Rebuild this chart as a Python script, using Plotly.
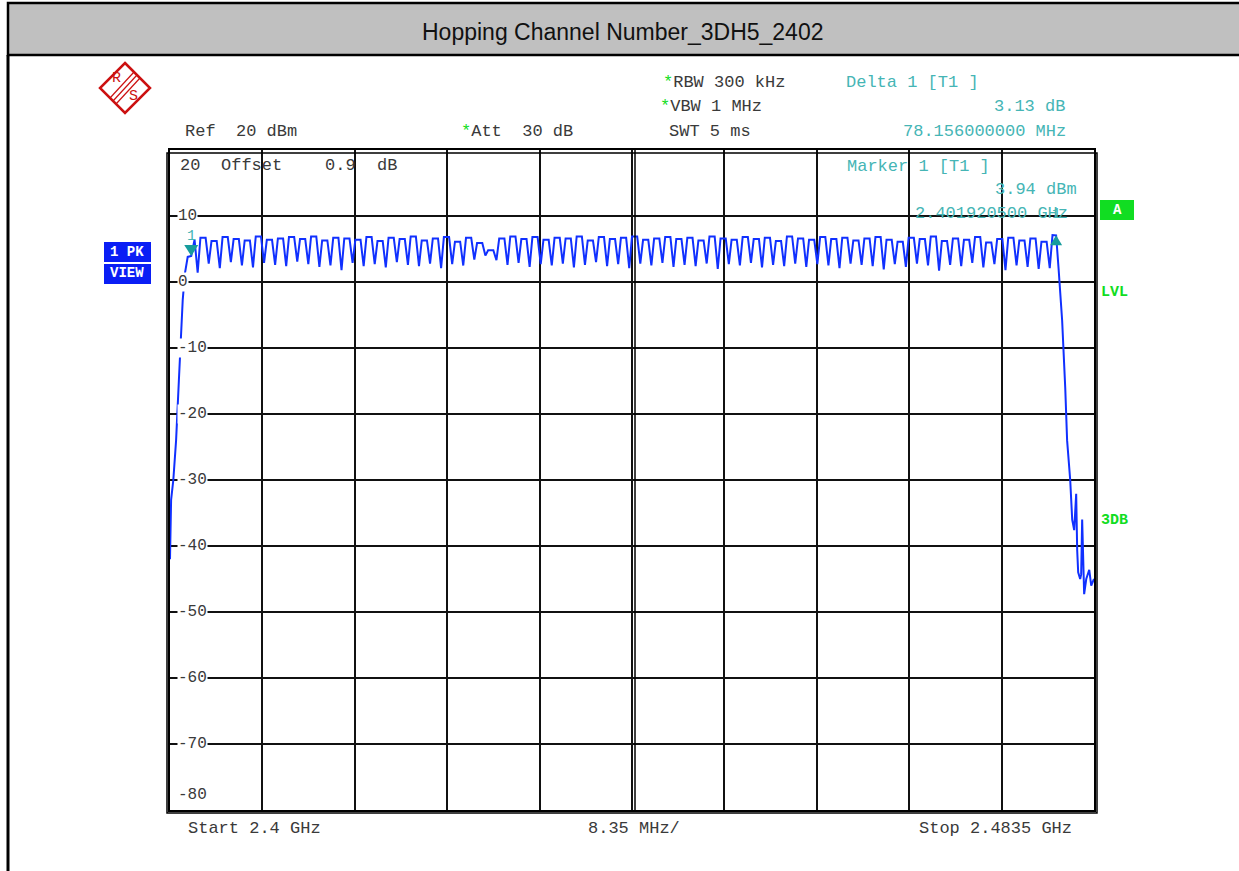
import plotly.graph_objects as go

# Bluetooth hopping channels, centre frequencies in MHz
channels_mhz = list(range(2402, 2481))

# top level of each channel hump (dBm)
peak_dbm = [
    6.4, 6.7, 6.2, 6.8, 6.5, 6.3, 6.9, 6.4, 6.6, 6.8,
    6.5, 6.9, 6.3, 6.7, 6.6, 6.4, 6.8, 6.2, 6.7, 6.5,
    6.9, 6.3, 6.6, 6.8, 6.1, 6.7, 5.9, 4.8, 6.6, 6.9,
    6.5, 6.8, 6.4, 6.7, 6.6, 6.9, 6.3, 6.8, 6.5, 6.7,
    6.9, 6.4, 6.6, 6.8, 6.5, 6.7, 6.3, 6.9, 6.6, 6.4,
    6.8, 6.5, 6.7, 6.2, 6.9, 6.6, 6.4, 6.8, 6.5, 6.7,
    6.3, 6.6, 6.8, 6.4, 6.1, 6.7, 6.5, 6.9, 6.2, 6.6,
    6.4, 6.8, 6.0, 6.5, 6.7, 6.3, 6.6, 6.1, 7.1,
]

# dip between neighbouring channels (dBm)
trough_dbm = [
    1.4, 2.8, 2.1, 3.0, 2.5, 2.2, 2.9, 2.6, 2.4, 3.1,
    2.7, 2.3, 2.5, 1.8, 2.9, 2.4, 2.7, 2.2, 3.0, 2.6,
    2.4, 2.8, 2.1, 2.7, 2.5, 3.4, 4.0, 3.3, 2.6, 2.9,
    2.3, 2.7, 2.5, 2.8, 2.2, 2.6, 3.0, 2.4, 2.7, 2.1,
    2.8, 2.5, 2.9, 2.3, 2.6, 2.4, 2.8, 2.0, 2.7, 2.5,
    2.9, 2.2, 2.6, 2.4, 2.8, 2.3, 2.7, 2.5, 2.1, 2.8,
    2.6, 2.4, 1.9, 2.7, 2.3, 2.8, 2.5, 1.7, 2.6, 2.4,
    2.9, 2.2, 2.7, 1.8, 2.5, 2.3, 2.0, 2.1,
]

# lower band edge
rise_mhz = [2400.0, 2400.1, 2400.3, 2400.55, 2400.8, 2401.0, 2401.15, 2401.35, 2401.6, 2401.9205]
rise_dbm = [-42, -33, -30, -24, -15, -8, -2.7, 1.3, 3.8, 3.94]

# upper band edge
fall_mhz = [2480.0765, 2480.3, 2480.62, 2480.9, 2481.07, 2481.35, 2481.53, 2481.71, 2481.89,
            2481.98, 2482.07, 2482.25, 2482.34, 2482.43, 2482.52, 2482.61, 2482.8, 2483.07,
            2483.25, 2483.5]
fall_dbm = [7.07, 2.0, -5.8, -16, -24, -30, -36, -37.6, -32.1,
            -40.6, -44, -45, -44.3, -36, -44.5, -47.3, -45, -43.6,
            -46, -45]

marker1_mhz = 2401.9205
marker1_dbm = 3.94
delta_mhz = 78.156
delta_db = 3.13

ytick_vals = [10, 0, -10, -20, -30, -40, -50, -60, -70]

# build the trace
xs = list(rise_mhz)
ys = list(rise_dbm)
for i, f in enumerate(channels_mhz):
    pts = [(f - 0.25, peak_dbm[i]), (f + 0.22, peak_dbm[i])]
    if i < len(trough_dbm):
        pts.append((f + 0.5, trough_dbm[i]))
    for x, y in pts:
        if rise_mhz[-1] < x < fall_mhz[0]:
            xs.append(x)
            ys.append(y)
xs += fall_mhz
ys += fall_dbm

W, H = 1239, 871
L, R, T, B = 170, 1094, 150, 810


def px(x):
    return (x - L) / (R - L)


def py(y):
    return (B - y) / (B - T)


MONO = "Liberation Mono, Courier New, monospace"
GREY = "#3a3a3a"
TEAL = "#45b5b5"
GREEN = "#11dd22"
BLUE = "#0a1ef5"
STAR = "<span style='color:%s'>*</span>" % GREEN

fig = go.Figure()
fig.add_trace(go.Scatter(x=xs, y=ys, mode="lines",
                         line=dict(color="#1030ff", width=2), hoverinfo="skip"))

ann = []


def txt(s, x, y, color=GREY, anchor="center", size=17, bold=False):
    ann.append(dict(text=("<b>%s</b>" % s) if bold else s, x=px(x), y=py(y), xref="paper",
                    yref="paper", xanchor=anchor, yanchor="middle", showarrow=False,
                    font=dict(family=MONO, size=size, color=color)))


# title bar
ann.append(dict(text="Hopping Channel Number_3DH5_2402", x=px(623), y=py(32), xref="paper",
                yref="paper", showarrow=False, xanchor="center", yanchor="middle",
                font=dict(family="Liberation Sans, Arial", size=23, color="#111")))

# header (centred on the span each string covers in the original screen)
txt("Ref  20 dBm", 241, 132)
txt(STAR + "Att  30 dB", 517, 132)
txt(STAR + "RBW 300 kHz", 724, 83)
txt(STAR + "VBW 1 MHz", 711, 107)
txt("SWT 5 ms", 710, 132)
txt("Delta 1 [T1 ]", 912, 83, TEAL)
txt("%.2f dB" % delta_db, 1029, 107, TEAL)
txt("%.9f MHz" % delta_mhz, 984, 132, TEAL)

# inside the grid
txt("20", 178, 165, anchor="left")
txt("Offset", 219, 165, anchor="left")
txt("0.9", 323, 165, anchor="left")
txt("dB", 375, 165, anchor="left")
txt("Marker 1 [T1 ]", 918, 166, TEAL)
txt("%.2f dBm" % marker1_dbm, 1036, 190, TEAL)
txt("%.9f GHz" % (marker1_mhz / 1000), 991, 214, TEAL)
txt("-80", 176, 795, anchor="left", size=16)

# bottom
txt("Start 2.4 GHz", 254, 828)
txt("8.35 MHz/", 634, 828)
txt("Stop 2.4835 GHz", 995, 828)

# right side labels
txt("LVL", 1099, 292, GREEN, "left", size=15, bold=True)
txt("3DB", 1099, 520, GREEN, "left", size=15, bold=True)
txt("A", 1117, 210, "white", size=14, bold=True)

# trace detector box
txt("1 PK", 127, 252, "white", size=14, bold=True)
txt("VIEW", 127, 273, "white", size=14, bold=True)

# y tick labels
for v in ytick_vals:
    ann.append(dict(text=str(v), x=0, xshift=7, y=v, xref="paper", yref="y", xanchor="left",
                    yanchor="middle", showarrow=False, bgcolor="white", borderpad=0,
                    font=dict(family=MONO, size=16, color=GREY)))

# marker labels
ann.append(dict(text="1", x=marker1_mhz, y=marker1_dbm, yshift=20, showarrow=False,
                font=dict(family=MONO, size=15, color=TEAL)))
ann.append(dict(text="1", x=marker1_mhz + delta_mhz, y=marker1_dbm + delta_db, yshift=21,
                showarrow=False, font=dict(family=MONO, size=15, color=TEAL)))

shapes = [
    # title bar and page border
    dict(type="rect", xref="paper", yref="paper", x0=px(8), x1=px(1242), y0=py(55), y1=py(3),
         fillcolor="#c0c0c0", line=dict(color="black", width=2.5), layer="below"),
    dict(type="line", xref="paper", yref="paper", x0=px(8), x1=px(8), y0=py(55), y1=py(875),
         line=dict(color="black", width=3)),
    # outer frame of the grid
    dict(type="rect", xref="paper", yref="paper", x0=px(167), x1=px(1097), y0=py(813), y1=py(153),
         line=dict(color="black", width=1.5)),
    # second centre line
    dict(type="line", xref="x", yref="paper", xsizemode="pixel", xanchor=2441.75, x0=3, x1=3,
         y0=0, y1=1, line=dict(color="black", width=1.5)),
    # blue detector box
    dict(type="rect", xref="paper", yref="paper", x0=px(104), x1=px(151), y0=py(262), y1=py(242),
         fillcolor=BLUE, line=dict(width=0)),
    dict(type="rect", xref="paper", yref="paper", x0=px(104), x1=px(151), y0=py(284), y1=py(264),
         fillcolor=BLUE, line=dict(width=0)),
    # green A box
    dict(type="rect", xref="paper", yref="paper", x0=px(1100), x1=px(1134), y0=py(220), y1=py(200),
         fillcolor=GREEN, line=dict(width=0)),
    # marker triangles
    dict(type="path", xref="x", yref="y", xsizemode="pixel", ysizemode="pixel",
         xanchor=marker1_mhz, yanchor=marker1_dbm, path="M -7 11 L 7 11 L 0 0 Z",
         fillcolor="#169c9c", line=dict(width=0)),
    dict(type="path", xref="x", yref="y", xsizemode="pixel", ysizemode="pixel",
         xanchor=marker1_mhz + delta_mhz, yanchor=marker1_dbm + delta_db,
         path="M -6 -10 L 6 -10 L 0 0 Z", fillcolor="#169c9c", line=dict(width=0)),
]

# R&S logo
RED = "#cc1111"
shapes.append(dict(type="path", xref="paper", yref="paper",
                   path="M %f %f L %f %f L %f %f L %f %f Z" % (px(125), py(63), px(150), py(88),
                                                              px(125), py(113), px(100), py(88)),
                   line=dict(color=RED, width=2.5)))
for d in (-3, 0, 3):
    shapes.append(dict(type="line", xref="paper", yref="paper",
                       x0=px(137 + d), y0=py(75 + d), x1=px(113 + d), y1=py(101 + d),
                       line=dict(color=RED, width=1.2)))
txt("R", 116, 79, RED, size=15)
txt("S", 133, 97, RED, size=15)

fig.update_layout(
    width=W, height=H,
    margin=dict(l=L, r=W - R, t=T, b=H - B),
    paper_bgcolor="white", plot_bgcolor="white",
    showlegend=False,
    annotations=ann, shapes=shapes,
    xaxis=dict(range=[2400, 2483.5], tick0=2400, dtick=8.35, showgrid=True, gridcolor="#111",
               gridwidth=1.5, showticklabels=False, ticks="", zeroline=False, showline=True,
               mirror=True, linecolor="black", linewidth=2),
    yaxis=dict(range=[-80, 20], tick0=0, dtick=10, showgrid=True, gridcolor="#111",
               gridwidth=1.5, showticklabels=False, ticks="", zeroline=False, showline=True,
               mirror=True, linecolor="black", linewidth=2),
)

fig.write_html("out.html", config={"displayModeBar": False},
               post_script="document.body.style.margin='0';")
